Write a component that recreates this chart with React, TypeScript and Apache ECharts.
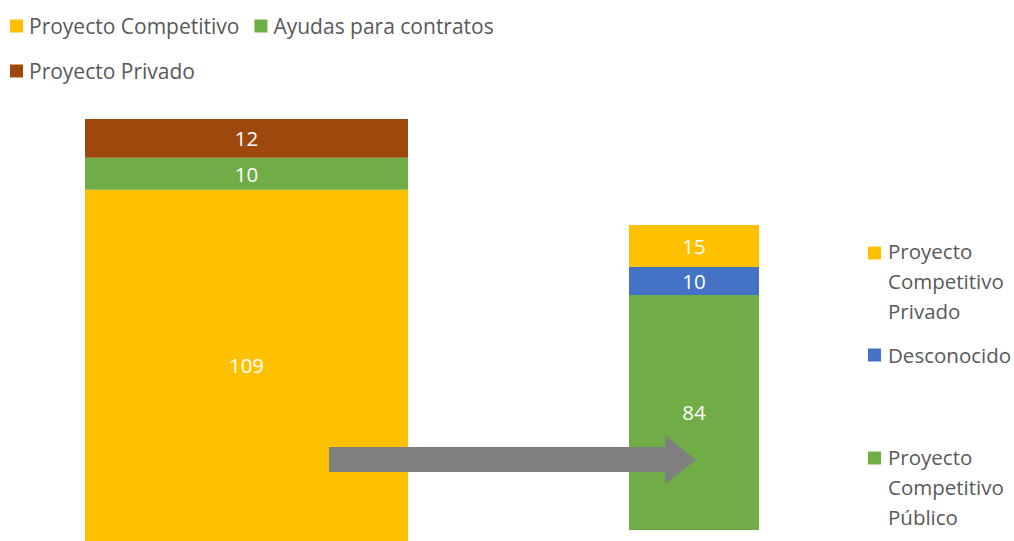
import React, { useEffect, useRef } from "react";
import * as echarts from "echarts";

const leftNames = ["Proyecto Competitivo", "Ayudas para contratos", "Proyecto Privado"];
const leftValues = [109, 10, 12];
const leftColors = ["#FFC000", "#70AD47", "#9E480E"];

const rightNames = ["Proyecto Competitivo Público", "Desconocido", "Proyecto Competitivo Privado"];
const rightValues = [84, 10, 15];
const rightColors = ["#70AD47", "#4472C4", "#FFC000"];

const rightLegendLabels = ["Proyecto\nCompetitivo\nPrivado", "Desconocido", "Proyecto\nCompetitivo\nPúblico"];
const rightLegendColors = ["#FFC000", "#4472C4", "#70AD47"];

const FONT = "'Open Sans', sans-serif";
const TEXT = "#595959";
const FS = 20.5;
const LFS = 21;

export default function App() {
  const ref = useRef<HTMLDivElement>(null);
  useEffect(() => {
    document.body.style.margin = "0";
    const chart = echarts.init(ref.current!, null, { renderer: "svg" });
    const label = {
      show: true,
      position: "inside",
      color: "#ffffff",
      fontSize: FS,
      fontFamily: FONT,
    };
    const series: any[] = [];
    leftNames.forEach((n, i) => {
      series.push({
        name: n,
        type: "bar",
        stack: "L",
        xAxisIndex: 0,
        yAxisIndex: 0,
        barWidth: "100%",
        data: [leftValues[i]],
        itemStyle: { color: leftColors[i] },
        label,
      });
    });
    rightNames.forEach((n, i) => {
      series.push({
        name: n,
        type: "bar",
        stack: "R",
        xAxisIndex: 1,
        yAxisIndex: 1,
        barWidth: "100%",
        data: [rightValues[i]],
        itemStyle: { color: rightColors[i] },
        label,
      });
    });
    const legendBase = {
      icon: "rect",
      itemWidth: 13,
      itemHeight: 13,
      padding: 0,
      selectedMode: false,
      textStyle: { color: TEXT, fontSize: LFS, fontFamily: FONT, lineHeight: 22, padding: [0, 0, 0, 1] },
    };
    const rightGraphics: any[] = [];
    const iconY = [253, 355, 458];
    const textY = [281, 355, 487];
    rightLegendLabels.forEach((t, i) => {
      rightGraphics.push({
        type: "rect",
        shape: { x: 868, y: iconY[i] - 6.5, width: 13, height: 13 },
        style: { fill: rightLegendColors[i] },
      });
      rightGraphics.push({
        type: "text",
        x: 888,
        y: textY[i],
        style: {
          text: t,
          fill: TEXT,
          fontSize: FS,
          fontFamily: FONT,
          lineHeight: 30,
          verticalAlign: "middle",
          align: "left",
        },
      });
    });
    chart.setOption({
      animation: false,
      grid: [
        { left: 85, top: 119, width: 323, height: 422 },
        { left: 629, top: 225, width: 130, height: 305 },
      ],
      xAxis: [
        { type: "category", data: [""], show: false, gridIndex: 0 },
        { type: "category", data: [""], show: false, gridIndex: 1 },
      ],
      yAxis: [
        { type: "value", min: 0, max: 131, show: false, gridIndex: 0 },
        { type: "value", min: 0, max: 109, show: false, gridIndex: 1 },
      ],
      legend: [
        { ...legendBase, left: 10, top: 15, itemGap: 15, data: [leftNames[0], leftNames[1]] },
        { ...legendBase, left: 10, top: 60, data: [leftNames[2]] },
      ],
      graphic: [
        ...rightGraphics,
        {
          type: "polygon",
          z: 100,
          shape: {
            points: [
              [329, 447],
              [665, 447],
              [665, 435],
              [696, 460],
              [665, 484],
              [665, 472],
              [329, 472],
            ],
          },
          style: { fill: "#7F7F7F" },
        },
      ],
      series,
    });
    return () => chart.dispose();
  }, []);
  return <div ref={ref} style={{ width: 1014, height: 541 }} />;
}
